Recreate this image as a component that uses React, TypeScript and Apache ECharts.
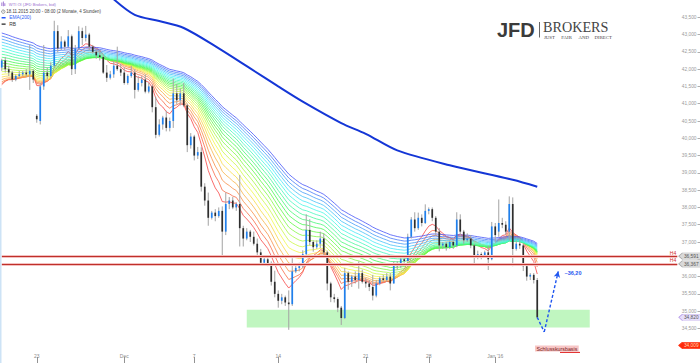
import React, { useEffect, useRef } from "react";
import * as echarts from "echarts";

// ---- Data ----
// 4-hour candles: [open, close, low, high]
const candles: number[][] = [
  [42050, 42250, 41950, 42300], [42250, 42000, 41900, 42350], [42000, 41900, 41800, 42100], [41900, 41700, 41630, 41950],
  [41700, 41800, 41650, 41850], [41800, 41850, 41750, 41950], [41850, 41900, 41800, 41950], [41900, 41850, 41780, 42000],
  [41850, 41950, 41400, 42700], [41950, 41700, 41600, 42000], [40650, 40550, 40450, 40700], [40500, 41500, 40400, 41600],
  [41500, 41900, 41400, 42700], [41900, 41800, 41700, 42050], [41800, 42100, 41750, 42200], [42100, 43100, 42050, 43400],
  [43100, 42600, 42480, 43270], [42600, 42800, 42550, 42950], [42800, 42650, 42550, 42850], [42650, 42950, 42600, 43130],
  [42950, 42000, 41830, 43000], [42000, 42600, 41860, 42700], [42600, 43100, 42550, 43240], [43100, 42900, 42700, 43200],
  [42900, 43000, 42800, 43250], [43000, 42650, 42550, 43050], [42650, 42500, 42450, 42700], [42500, 42400, 42300, 42600],
  [42400, 42350, 42250, 42550], [42350, 41900, 41860, 42400], [41900, 41750, 41630, 42120], [41750, 41850, 41700, 41950],
  [41850, 42100, 41750, 42250], [42100, 42000, 41950, 42650], [42000, 41900, 41800, 42150], [41900, 41600, 41550, 42050],
  [41600, 41800, 41550, 41850], [41800, 41900, 41750, 42100], [41900, 41400, 41150, 42000], [41400, 41600, 41350, 41800],
  [41600, 41700, 41500, 41800], [41700, 41350, 41300, 41850], [41350, 41500, 41300, 41600], [41500, 40900, 40750, 41550],
  [40900, 40100, 40000, 41200], [40100, 40400, 40050, 40550], [40400, 40600, 40250, 40650], [40600, 40300, 40200, 40800],
  [40300, 40500, 40200, 40600], [40500, 41300, 40300, 41730], [41300, 41100, 40980, 41570], [41100, 41300, 40950, 41450],
  [41300, 40950, 40900, 41600], [40950, 39800, 39600, 41000], [39800, 40050, 39700, 40150], [40050, 39500, 39360, 40100],
  [39500, 39600, 39400, 39750], [39600, 38600, 38460, 39740], [38600, 38200, 38050, 38700], [38200, 37700, 37470, 38430],
  [37700, 37850, 37650, 37900], [37850, 37750, 37600, 37950], [37750, 37900, 37700, 38000], [37900, 37300, 36600, 38030],
  [37300, 38100, 37200, 38430], [38100, 38200, 37950, 38300], [38200, 38000, 37950, 38300], [38000, 38100, 37900, 38150],
  [38100, 37400, 36870, 38940], [37400, 37100, 36870, 37470], [37100, 37300, 37050, 37400], [37300, 37150, 37000, 37350],
  [37150, 36950, 36900, 37300], [36950, 36700, 36620, 37100], [36700, 36400, 36330, 36800], [36400, 36500, 36330, 36550],
  [36500, 36350, 36300, 36600], [36350, 35850, 35740, 36440], [35850, 35500, 35400, 36170], [35500, 35300, 35100, 35600],
  [35300, 35400, 35200, 35500], [35400, 35250, 35150, 35450], [35250, 35200, 34460, 35600], [35200, 36150, 35150, 36530],
  [36150, 36250, 36100, 36350], [36250, 36300, 36150, 36400], [36300, 36650, 36250, 36760], [36650, 37350, 36620, 37800],
  [37350, 37000, 36900, 37660], [37000, 36850, 36720, 37050], [36850, 36950, 36800, 37050], [36950, 37100, 36820, 37300],
  [37100, 36700, 36580, 37250], [36700, 35800, 35600, 36750], [35800, 35400, 35260, 35850], [35400, 35350, 35250, 35500],
  [35350, 35100, 34970, 35400], [35100, 34800, 34600, 35150], [34800, 36100, 34770, 36250], [36100, 35850, 35620, 36150],
  [35850, 36000, 35700, 36050], [36000, 35900, 35800, 36150], [35900, 36100, 35650, 36440], [36100, 35850, 35800, 36200],
  [35850, 35800, 35680, 35960], [35800, 35700, 35580, 35900], [35700, 35450, 35310, 36050], [35450, 35800, 35400, 35900],
  [35800, 35950, 35750, 36000], [35950, 35900, 35850, 36050], [35900, 36000, 35850, 36100], [36000, 35800, 35600, 36100],
  [35800, 36350, 35800, 36440], [36350, 36300, 36200, 36450], [36300, 36500, 36250, 36550], [36500, 36450, 36400, 36600],
  [36450, 37150, 36450, 37240], [37150, 37650, 37100, 37720], [37650, 37400, 37300, 37860], [37400, 37700, 37350, 37850],
  [37700, 37550, 37450, 37800], [37550, 37900, 37520, 38090], [37900, 37950, 37800, 38000], [37950, 37700, 37600, 38000],
  [37700, 37300, 37180, 37750], [37300, 36900, 36730, 37400], [36900, 36950, 36800, 37000], [36950, 36850, 36750, 37000],
  [36850, 37000, 36800, 37050], [37000, 36900, 36800, 37050], [36900, 37650, 36850, 37860], [37650, 37300, 37150, 37800],
  [37300, 37050, 36950, 37350], [37050, 37100, 37000, 37250], [37100, 36900, 36820, 37200], [36900, 36550, 36390, 36950],
  [36550, 36650, 36500, 36750], [36650, 36600, 36500, 36700], [36600, 36700, 36550, 36750], [36700, 36500, 36190, 36900],
  [36500, 37450, 36470, 37580], [37450, 37200, 37000, 37550], [37300, 37550, 37150, 38230], [37550, 37500, 37400, 37700],
  [37500, 37300, 37200, 37600], [37300, 38100, 37040, 38320], [38100, 36800, 36300, 38290], [36800, 36950, 36750, 37050],
  [36950, 36900, 36800, 37050], [36900, 36300, 36160, 36950], [36300, 36000, 35880, 36350], [36000, 36050, 35900, 36100],
  [36050, 35900, 35800, 36100], [35900, 34820, 34770, 35960],
];

const TOTAL_SLOTS = 200; // candle slots across the full width (future slots empty)
const tickIndex = [10, 35, 55, 79, 104, 122, 141];
const tickLabels = ["23", "Dec", "7", "14", "21", "28", "Jan '16"];
const hiddenPriceLabels = [36500, 34000]; // covered by the price badges in the reference

// EMA(200) at candle slots
const ema200Idx = [32, 38, 45, 52, 62, 71, 79, 86, 97, 104, 113, 128, 146, 153];
const ema200Val = [44020, 43570, 43390, 43190, 42600, 42020, 41500, 41060, 40440, 40130, 39650, 39220, 38800, 38600];

// Rainbow ribbon (RB): EMA periods and their start values at the left edge
const ribbonPeriods = [8, 11, 14, 17, 20, 23, 26, 29, 32, 35, 38, 41, 44, 47, 50, 53, 56, 59, 62, 65];
const ribbonSeed = [41350, 41450, 41540, 41630, 41720, 41810, 41900, 41990, 42080, 42170, 42260, 42350, 42440, 42530, 42620, 42710, 42800, 42890, 42980, 43070];

const h4Levels = [36591, 36367];
const badgeValues = [36591, 36367, 34820, 34009];
const zoneRange = [34530, 35040];
const zoneSlots = [70, 168];
const projectionIdx = [153, 155, 159];
const projectionVal = [34820, 34400, 36150];

const FONT = '"Liberation Sans", Arial, sans-serif';
const SERIF = '"Liberation Serif", "Times New Roman", serif';
const fmt = (v: number) => v.toLocaleString("en-US");

export default function App() {
  const ref = useRef<HTMLDivElement>(null);

  useEffect(() => {
    const chart = echarts.init(ref.current!, null, { renderer: "svg" });
    const closes = candles.map((c) => c[1]);

    // ribbon indicator computed from the candle closes
    const ribbon = ribbonPeriods.map((p, k) => {
      const a = 2 / (p + 1);
      let e = ribbonSeed[k];
      return closes.map((c) => (e = e + a * (c - e)));
    });

    const categories = Array.from({ length: TOTAL_SLOTS }, (_, i) => String(i));
    const showTick = (i: number) => tickIndex.includes(i);

    const badgeStyle = [
      { fill: "#d9d9d9", stroke: "#a9a9a9", text: "#555" },
      { fill: "#d9d9d9", stroke: "#a9a9a9", text: "#555" },
      { fill: "#e6defa", stroke: "#b79ce8", text: "#555" },
      { fill: "#ff2a0a", stroke: "#ff2a0a", text: "#ffd9b0" },
    ];
    const badgePath = "path://M0,5L5,0L30,0L30,10L5,10Z";

    const hLines: any[] = [];
    h4Levels.forEach((v) => {
      hLines.push([
        { coord: [0, v], lineStyle: { color: "#f3c0c0", width: 3, type: "solid" } },
        { coord: [193, v] },
      ]);
      hLines.push([
        {
          coord: [0, v],
          lineStyle: { color: "#c0302a", width: 1, type: "solid" },
          label: { show: true, formatter: "H4", position: "insideEndTop", color: "#d03030", fontSize: 5, fontFamily: FONT, distance: 1 },
        },
        { coord: [193, v] },
      ]);
    });
    const dashStyle = { color: "#1f56f0", width: 1.4, type: [3, 2] as any };
    hLines.push([
      { coord: [projectionIdx[0], projectionVal[0]], lineStyle: dashStyle },
      { coord: [projectionIdx[1], projectionVal[1]] },
    ]);
    hLines.push([
      { coord: [projectionIdx[1], projectionVal[1]], lineStyle: dashStyle },
      { coord: [projectionIdx[2], projectionVal[2]], symbol: "arrow", symbolSize: [5, 6] },
    ]);

    const ribbonSeries = ribbon.map((d, k) => {
      const hue = (k * 235) / (ribbon.length - 1);
      const s: any = {
        type: "line",
        name: "RB" + k,
        data: d,
        showSymbol: false,
        symbol: "none",
        z: 2,
        lineStyle: { width: 0.8, color: `hsl(${hue}, 92%, 62%)` },
        silent: true,
      };
      if (k === 0) {
        s.markArea = {
          silent: true,
          itemStyle: { color: "#c0f6c0" },
          data: [[{ coord: [zoneSlots[0], zoneRange[1]] }, { coord: [zoneSlots[1], zoneRange[0]] }]],
        };
      }
      return s;
    });

    // tagline words spread across the logo width
    const taglineWords = ["JUST", "FAIR", "AND", "DIRECT"];
    const taglineX = [544, 561.3, 578.5, 594.6];

    const option: any = {
      animation: false,
      backgroundColor: "#ffffff",
      grid: { left: 0, right: 0, top: -3.65, height: 370.65, containLabel: false },
      xAxis: {
        type: "category",
        data: categories,
        boundaryGap: true,
        axisLine: { show: false },
        axisTick: {
          show: true,
          inside: true,
          length: 6,
          alignWithLabel: true,
          interval: (i: number) => showTick(i),
          lineStyle: { color: "#777", width: 0.8 },
        },
        axisLabel: {
          inside: true,
          margin: 5,
          interval: (i: number) => showTick(i),
          formatter: (_v: string, i: number) => {
            const k = tickIndex.indexOf(i);
            return k >= 0 ? tickLabels[k] : "";
          },
          color: "#8a8a8a",
          fontSize: 5,
          fontFamily: FONT,
        },
        splitLine: { show: false },
      },
      yAxis: {
        type: "value",
        position: "right",
        min: 33500,
        max: 44000,
        interval: 500,
        axisLine: { show: false },
        axisTick: { show: true, inside: true, length: 2.5, lineStyle: { color: "#999", width: 0.8 } },
        axisLabel: {
          inside: true,
          margin: 3.5,
          showMinLabel: false,
          showMaxLabel: false,
          formatter: (v: number) => (hiddenPriceLabels.includes(v) ? "" : fmt(v)),
          color: "#9a9a9a",
          fontSize: 4.8,
          fontFamily: FONT,
        },
        splitLine: { show: false },
      },
      series: [
        ...ribbonSeries,
        {
          type: "custom",
          name: "candles",
          z: 3,
          clip: true,
          data: candles.map((c, i) => [i, c[0], c[1], c[2], c[3]]),
          encode: { x: 0, y: [1, 2, 3, 4] },
          renderItem: (_p: any, api: any) => {
            const i = api.value(0);
            const o = api.value(1);
            const c = api.value(2);
            const l = api.value(3);
            const h = api.value(4);
            const pO = api.coord([i, o]);
            const pC = api.coord([i, c]);
            const pL = api.coord([i, l]);
            const pH = api.coord([i, h]);
            const up = c >= o;
            const w = 1.7;
            const top = Math.min(pO[1], pC[1]);
            const hh = Math.max(Math.abs(pO[1] - pC[1]), 0.9);
            return {
              type: "group",
              children: [
                { type: "line", shape: { x1: pL[0], y1: pL[1], x2: pH[0], y2: pH[1] }, style: { stroke: "#a3a3a3", lineWidth: 1 } },
                { type: "rect", shape: { x: pO[0] - w / 2, y: top, width: w, height: hh }, style: { fill: up ? "#1f80ee" : "#2e2e2e" } },
              ],
            };
          },
        },
        {
          type: "line",
          name: "EMA(200)",
          z: 4,
          data: ema200Idx.map((x, k) => [x, ema200Val[k]]),
          showSymbol: false,
          symbol: "none",
          smooth: 0.3,
          lineStyle: { color: "#1436d6", width: 2 },
          markLine: {
            silent: true,
            symbol: ["none", "none"],
            label: { show: false },
            data: hLines,
          },
          markPoint: {
            silent: true,
            data: badgeValues.map((v, k) => ({
              coord: [196, v],
              symbol: badgePath,
              symbolSize: [22, 6.5],
              symbolOffset: [2, 0],
              itemStyle: { color: badgeStyle[k].fill, borderColor: badgeStyle[k].stroke, borderWidth: 0.6 },
              label: { show: true, position: "inside", formatter: fmt(v), color: badgeStyle[k].text, fontSize: 4.8, fontFamily: FONT, offset: [1.5, 0.3] },
            })),
          },
        },
      ],
      graphic: [
        { type: "rect", z: 20, shape: { x: 0, y: 88, width: 1.5, height: 275 }, style: { fill: "#cde3f6" } },
        // legend block
        { type: "rect", z: 20, shape: { x: 1.4, y: 2.4, width: 0.9, height: 3.6 }, style: { fill: "#9a6fd0" } },
        { type: "rect", z: 20, shape: { x: 2.9, y: 1.6, width: 0.9, height: 4.6 }, style: { fill: "#9a6fd0" } },
        { type: "rect", z: 20, shape: { x: 4.4, y: 3.2, width: 0.9, height: 2.8 }, style: { fill: "#9a6fd0" } },
        { type: "text", z: 20, style: { text: "WTI Öl (JFD Brokers, bid)", x: 8.8, y: 4.3, fill: "#9a6fd0", fontSize: 4.1, fontFamily: FONT, textVerticalAlign: "middle" } },
        { type: "circle", z: 20, shape: { cx: 3.3, cy: 11.6, r: 1.7 }, style: { fill: "none", stroke: "#555", lineWidth: 0.6 } },
        { type: "line", z: 20, shape: { x1: 3.3, y1: 10.6, x2: 3.3, y2: 11.7 }, style: { stroke: "#555", lineWidth: 0.5 } },
        { type: "text", z: 20, style: { text: "18.11.2015 20:00 - 08:00 (2 Monate, 4 Stunden)", x: 6.3, y: 11.7, fill: "#444", fontSize: 4.45, fontFamily: FONT, textVerticalAlign: "middle" } },
        { type: "rect", z: 20, shape: { x: 1.6, y: 17.1, width: 4, height: 1.4 }, style: { fill: "#2255ff" } },
        { type: "text", z: 20, style: { text: "EMA(200)", x: 9.2, y: 17.8, fill: "#2f5df5", fontSize: 4.9, fontFamily: FONT, textVerticalAlign: "middle" } },
        { type: "rect", z: 20, shape: { x: 1.6, y: 23.4, width: 4, height: 1.4 }, style: { fill: "#222" } },
        { type: "text", z: 20, style: { text: "RB", x: 9.2, y: 24.2, fill: "#333", fontSize: 4.9, fontFamily: FONT, textVerticalAlign: "middle" } },
        // logo
        { type: "text", z: 20, style: { text: "JFD", x: 497, y: 29.8, fill: "#3b3b3b", fontSize: 20, fontWeight: "bold", fontFamily: FONT, textVerticalAlign: "middle" } },
        { type: "line", z: 20, shape: { x1: 539.5, y1: 22, x2: 539.5, y2: 37.5 }, style: { stroke: "#555", lineWidth: 0.9 } },
        { type: "text", z: 20, style: { text: "BROKERS", x: 543, y: 26.5, fill: "#444", fontSize: 14.2, fontFamily: SERIF, textVerticalAlign: "middle" } },
        ...taglineWords.map((w, k) => ({
          type: "text",
          z: 20,
          style: { text: w, x: taglineX[k], y: 37.1, fill: "#444", fontSize: 4.8, fontFamily: SERIF, textVerticalAlign: "middle" },
        })),
        // annotations
        { type: "text", z: 20, style: { text: "~36,20", x: 564.5, y: 272.6, fill: "#1f56f0", fontSize: 5.5, fontWeight: "bold", fontFamily: FONT, textVerticalAlign: "middle" } },
        { type: "text", z: 20, style: { text: "Schlusskursbasis", x: 535, y: 348.5, fill: "#7a1a1a", fontSize: 5.3, fontFamily: FONT, textVerticalAlign: "middle", backgroundColor: "#f7c6c6", padding: [0.6, 1.4, 0.6, 1.4] } },
        { type: "line", z: 20, shape: { x1: 560, y1: 352.4, x2: 580, y2: 352.4 }, style: { stroke: "#e01e1e", lineWidth: 1 } },
      ],
    };

    chart.setOption(option);
    return () => chart.dispose();
  }, []);

  return (
    <div
      ref={ref}
      style={{ position: "fixed", left: 0, top: 0, width: 700, height: 363, background: "#fff" }}
    />
  );
}
